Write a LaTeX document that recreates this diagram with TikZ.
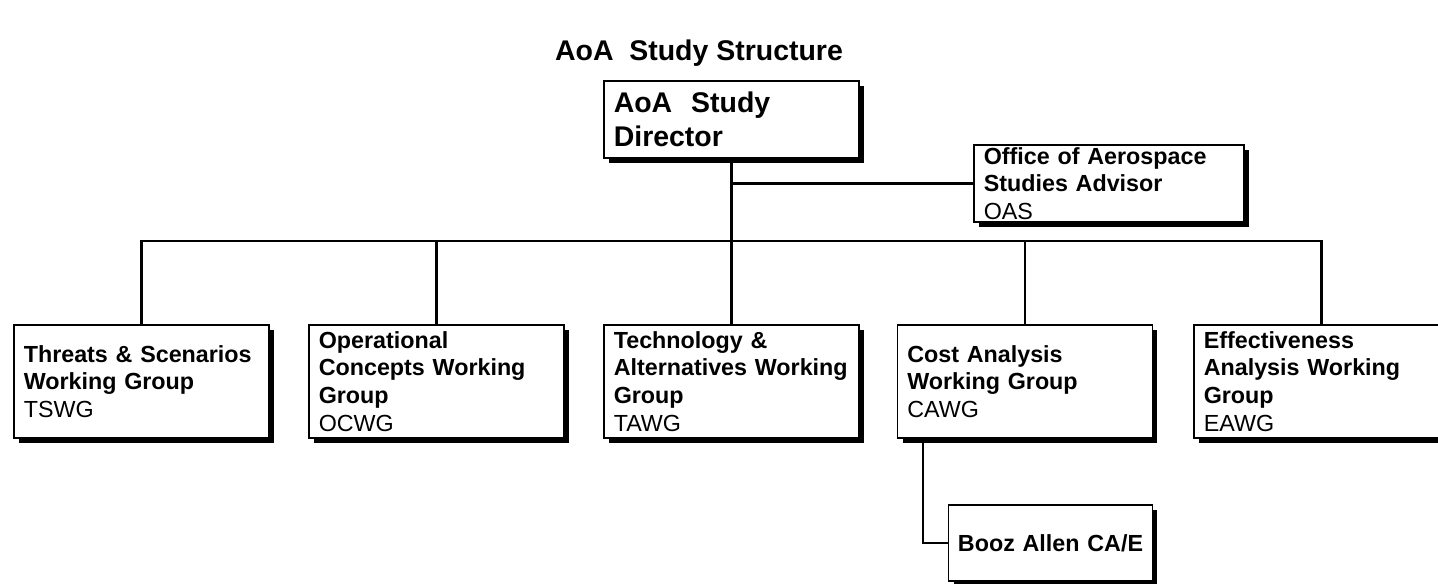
\documentclass[tikz,border=0pt]{standalone}
\usepackage{fontspec}
\setmainfont{Liberation Sans}
\usetikzlibrary{shadows}

\begin{document}
\begin{tikzpicture}[x=0.02cm, y=-0.02cm, line width=1.4pt]
        % Define box styles
        \tikzstyle{unit}=[rectangle, draw=black, line width=0.9pt, fill=white, align=left,
            inner xsep=5.5pt, inner ysep=1pt, text width=134pt, minimum height=64pt,
            font=\fontsize{13.26}{15.76}\selectfont,
            drop shadow={shadow xshift=0.1cm, shadow yshift=-0.1cm, opacity=1, fill=black}]
        \tikzstyle{head}=[unit, minimum height=43.8pt,
            font=\fontsize{16.2}{19.35}\selectfont]

        % Page
        \path[fill=white] (0,0) rectangle (1438,583);
        \useasboundingbox (0,0) rectangle (1438,583);

        % Title
        \node[anchor=base, font=\fontsize{16.2}{19.35}\selectfont\bfseries] (title) at (699,60) {AoA~~Study Structure};

        % Director and advisor
        \node[head] (director) at (731.5,119.5) {\textbf{AoA~~Study}\\\textbf{Director}};
        \node[unit, text width=142.5pt, minimum height=43.8pt] (oas) at (1109,183.5)
            {\textbf{Office of Aerospace}\\\textbf{Studies Advisor}\\OAS};

        % Working groups
        \foreach \m/\x/\t in {tswg/141.5/{\textbf{Threats \& Scenarios}\\\textbf{Working Group}\\TSWG},
                              ocwg/436.5/{\textbf{Operational}\\\textbf{Concepts Working}\\\textbf{Group}\\OCWG},
                              tawg/731.5/{\textbf{Technology \&}\\\textbf{Alternatives Working}\\\textbf{Group}\\TAWG},
                              cawg/1025/{\textbf{Cost Analysis}\\\textbf{Working Group}\\CAWG},
                              eawg/1321.5/{\textbf{Effectiveness}\\\textbf{Analysis Working}\\\textbf{Group}\\EAWG}}
            \node[unit] (\m) at (\x,381.5) {\t};

        % Contractor support
        \node[unit, align=center, inner xsep=4pt, text width=108pt, minimum height=43pt] (booz) at (1050.5,543)
            {\textbf{Booz Allen CA/E}};

        % Connect director with advisor and groups
        \coordinate (bus) at (731.5,241);
        \draw (director.south) -- (bus);
        \draw (director.south |- oas.west) -- (oas.west);
        \draw (tswg.north) |- (bus) -| (eawg.north);
        \foreach \m in {ocwg,tawg,cawg}
            \draw (\m.north) -- (\m.north |- bus);

        % Connect cost group with contractor
        \draw ([xshift=0.52cm]cawg.south west) |- (booz.west);
    \end{tikzpicture}
\end{document}
